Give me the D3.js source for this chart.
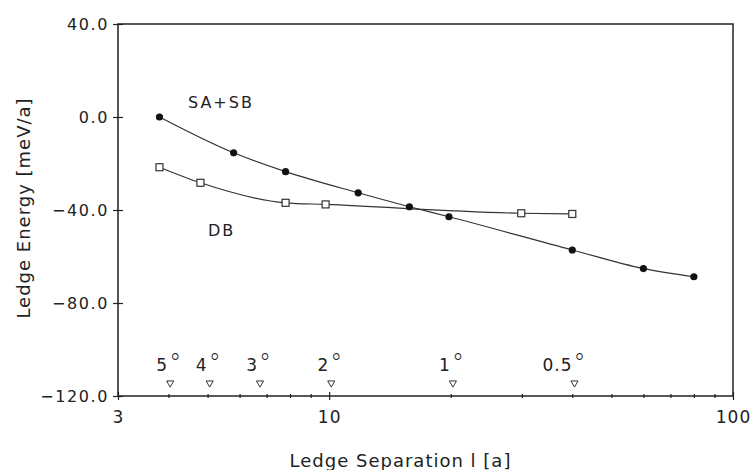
<!DOCTYPE html>
<html>
<head>
<meta charset="utf-8">
<script src="https://cdn.jsdelivr.net/npm/d3@7"></script>
<style>
  html, body { margin: 0; padding: 0; background: #fff; }
  svg text { font-family: "DejaVu Sans", sans-serif; fill: #222; }
</style>
</head>
<body>
<svg id="chart" width="755" height="470"></svg>
<script>
// ---- data ----
const sasbSep    = [3.8, 5.8, 7.8, 11.8, 15.8, 19.8, 40, 60, 80];
const sasbEnergy = [0.0, -15.4, -23.5, -32.6, -38.6, -42.9, -57.2, -65.2, -68.7];
const dbSep      = [3.8, 4.8, 7.8, 9.8, 29.9, 40];
const dbEnergy   = [-21.6, -28.3, -36.9, -37.6, -41.4, -41.7];

const yTickValues = [40, 0, -40, -80, -120];
const yTickLabels = ["40.0", "0.0", "\u221240.0", "\u221280.0", "\u2212120.0"];
const xMajorTicks = [3, 10, 100];
const xMajorLabels = ["3", "10", "100"];
const xMinorTicks = [4, 5, 6, 7, 8, 9, 20, 30, 40, 50, 60, 70, 80, 90];

const angleLabels = ["5", "4", "3", "2", "1", "0.5"];
const angleSep    = [4.04, 5.06, 6.74, 10.12, 20.25, 40.5];

const seriesNames  = ["SA+SB", "DB"];
const seriesLabelX = [4.47, 5.01];
const seriesLabelY = [3.9, -51.2];

// ---- layout ----
const svg = d3.select("#chart");
const L = 118, R = 733, T = 24, B = 396;
const x = d3.scaleLog().domain([3, 100]).range([L, R]);
const y = d3.scaleLinear().domain([-120, 40]).range([B, T]);
const ink = "#222";

// frame
svg.append("rect")
  .attr("x", L).attr("y", T).attr("width", R - L).attr("height", B - T)
  .attr("fill", "none").attr("stroke", ink).attr("stroke-width", 1.5);

// y axis
const yAxis = d3.axisLeft(y).tickValues(yTickValues).tickSize(5)
  .tickFormat((d, i) => yTickLabels[i]);
const gy = svg.append("g").attr("transform", `translate(${L},0)`).call(yAxis);
gy.select(".domain").remove();
gy.selectAll(".tick line").attr("x1", 5).attr("x2", -5).attr("stroke", ink).attr("stroke-width", 1.2);
gy.selectAll(".tick text").attr("x", -9).attr("font-size", 16).attr("letter-spacing", 1.6)
  .style("font-family", "DejaVu Sans").attr("fill", ink);

// x axis major
const xAxis = d3.axisBottom(x).tickValues(xMajorTicks).tickSize(4)
  .tickFormat((d, i) => xMajorLabels[i]);
const gx = svg.append("g").attr("transform", `translate(0,${B})`).call(xAxis);
gx.select(".domain").remove();
gx.selectAll(".tick line").attr("y1", -4).attr("y2", 4).attr("stroke", ink).attr("stroke-width", 1.2);
gx.selectAll(".tick text").attr("y", 27).attr("dy", 0).attr("font-size", 17).attr("letter-spacing", 1)
  .style("font-family", "DejaVu Sans").attr("fill", ink);

// x axis minor
const xMinorAxis = d3.axisBottom(x).tickValues(xMinorTicks).tickSize(2).tickFormat("");
const gxm = svg.append("g").attr("transform", `translate(0,${B})`).call(xMinorAxis);
gxm.select(".domain").remove();
gxm.selectAll(".tick line").attr("y1", -2).attr("y2", 2).attr("stroke", ink).attr("stroke-width", 1.2);

// axis titles
svg.append("text")
  .attr("x", (L + R) / 2 - 25).attr("y", 467)
  .attr("text-anchor", "middle").attr("font-size", 18).attr("letter-spacing", 1)
  .text("Ledge Separation l [a]");
svg.append("text")
  .attr("transform", `translate(30,${(T + B) / 2 - 2}) rotate(-90)`)
  .attr("text-anchor", "middle").attr("font-size", 18).attr("letter-spacing", 1)
  .text("Ledge Energy [meV/a]");

// curves
const line = d3.line()
  .x(d => x(d[0])).y(d => y(d[1]))
  .curve(d3.curveMonotoneX);
const sasb = sasbSep.map((s, i) => [s, sasbEnergy[i]]);
const db = dbSep.map((s, i) => [s, dbEnergy[i]]);

svg.append("path").datum(sasb).attr("d", line)
  .attr("fill", "none").attr("stroke", "#333").attr("stroke-width", 1.2);
svg.append("path").datum(db).attr("d", line)
  .attr("fill", "none").attr("stroke", "#333").attr("stroke-width", 1.2);

// markers
svg.append("g").selectAll("circle").data(sasb).join("circle")
  .attr("cx", d => x(d[0])).attr("cy", d => y(d[1])).attr("r", 3.6)
  .attr("fill", "#111");
svg.append("g").selectAll("rect").data(db).join("rect")
  .attr("x", d => x(d[0]) - 3.5).attr("y", d => y(d[1]) - 3.5)
  .attr("width", 7).attr("height", 7)
  .attr("fill", "#fff").attr("stroke", "#333").attr("stroke-width", 1.2);

// series labels
svg.append("g").selectAll("text").data(seriesNames).join("text")
  .attr("x", (d, i) => x(seriesLabelX[i])).attr("y", (d, i) => y(seriesLabelY[i]))
  .attr("font-size", 16).attr("letter-spacing", 2)
  .text(d => d);

// tilt angle markers
const tri = d3.symbol().type(d3.symbolTriangle).size(22);
const ga = svg.append("g");
angleSep.forEach((s, i) => {
  const cx = x(s);
  ga.append("path").attr("d", tri)
    .attr("transform", `translate(${cx},${B - 13}) rotate(180)`)
    .attr("fill", "#fff").attr("stroke", "#333").attr("stroke-width", 1);
  ga.append("text").attr("x", cx - 2).attr("y", B - 25.5)
    .attr("text-anchor", "end").attr("font-size", 17).attr("letter-spacing", 1)
    .text(angleLabels[i]);
  ga.append("text").attr("x", cx - 1).attr("y", B - 25.5)
    .attr("text-anchor", "start").attr("font-size", 24).attr("font-weight", 200)
    .text("\u00B0");
});
</script>
</body>
</html>
